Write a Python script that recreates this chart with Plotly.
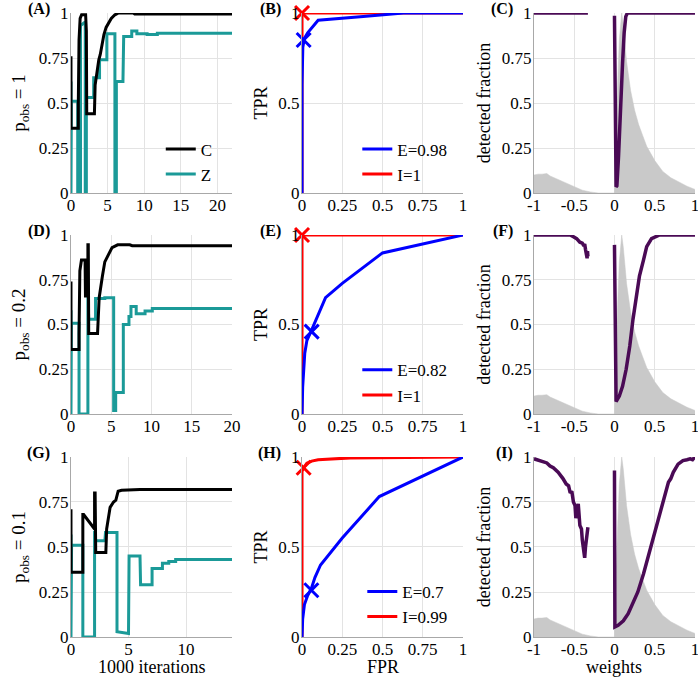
import plotly.graph_objects as go

# ---------------- data ----------------
# Panel A (p_obs = 1)
a_c_x = [0, 0, 0.95, 1.0, 1.0, 1.1, 1.25, 1.45, 2.0, 2.1, 2.15, 3.2, 3.3, 3.5, 3.8, 4.0, 4.3, 4.5, 4.8, 5.2, 5.5, 6.0, 6.5, 8.5, 8.7, 22]
a_c_y = [0.76, 0.36, 0.36, 0.36, 0.5, 0.85, 0.97, 0.99, 0.99, 0.9, 0.44, 0.44, 0.6, 0.67, 0.74, 0.77, 0.85, 0.88, 0.92, 0.95, 0.97, 0.99, 1.0, 1.0, 0.995, 0.995]
a_z_x = [0, 0, 0.05, 0.05, 0.92, 0.92, 1.3, 1.3, 1.95, 1.95, 2.1, 2.1, 3.1, 3.1, 3.9, 3.9, 4.9, 4.9, 6.0, 6.0, 6.2, 6.2, 7.1, 7.2, 8.3, 8.3, 9.0, 9.0, 10.4, 10.4, 11.8, 11.8, 22]
a_z_y = [0.62, 0, 0, 0.51, 0.51, 0, 0, 0.93, 0.95, 0, 0, 0.53, 0.53, 0.64, 0.64, 0.74, 0.74, 0.885, 0.885, 0, 0, 0.62, 0.62, 0.87, 0.87, 0.9, 0.9, 0.885, 0.885, 0.88, 0.88, 0.888, 0.888]

# Panel D (p_obs = 0.2)
d_c_x = [0, 0, 1.0, 1.0, 1.1, 1.2, 1.3, 1.75, 1.8, 2.1, 2.1, 2.15, 2.2, 3.3, 3.5, 3.8, 3.9, 4.2, 4.7, 5.1, 5.8, 7.3, 7.6, 20]
d_c_y = [0.74, 0.36, 0.36, 0.45, 0.8, 0.85, 0.86, 0.86, 0.66, 0.66, 0.945, 0.945, 0.45, 0.45, 0.65, 0.75, 0.77, 0.85, 0.9, 0.93, 0.945, 0.945, 0.94, 0.94]
d_z_x = [0, 0, 0.05, 0.05, 1.0, 1.0, 2.1, 2.1, 2.2, 3.05, 3.05, 4.2, 4.2, 5.3, 5.3, 5.55, 5.55, 6.5, 6.5, 7.2, 7.2, 7.45, 7.45, 8.1, 8.1, 9.2, 9.2, 10.1, 10.1, 20]
d_z_y = [0.58, 0, 0, 0.507, 0.507, 0, 0, 0.68, 0.53, 0.53, 0.645, 0.645, 0.65, 0.65, 0.02, 0.02, 0.12, 0.12, 0.5, 0.5, 0.545, 0.545, 0.6, 0.6, 0.56, 0.56, 0.575, 0.575, 0.59, 0.59]

# Panel G (p_obs = 0.1)
g_c_x = [0, 0, 1.0, 1.03, 1.03, 1.1, 2.05, 2.05, 2.1, 2.15, 3.03, 3.1, 3.4, 3.7, 3.9, 4.1, 4.4, 6.0, 14]
g_c_y = [0.71, 0.36, 0.36, 0.36, 0.68, 0.68, 0.6, 0.8, 0.8, 0.47, 0.47, 0.6, 0.72, 0.75, 0.76, 0.81, 0.815, 0.82, 0.82]
g_z_x = [0, 0, 0.05, 0.05, 1.03, 1.03, 2.05, 2.05, 2.15, 2.95, 3.0, 4.0, 4.0, 5.0, 5.05, 6.0, 6.05, 7.05, 7.05, 7.95, 7.95, 8.5, 8.5, 9.1, 9.1, 14]
g_z_y = [0.57, 0, 0, 0.51, 0.51, 0, 0, 0.59, 0.535, 0.535, 0.58, 0.58, 0.03, 0.02, 0.45, 0.45, 0.29, 0.29, 0.38, 0.38, 0.41, 0.41, 0.42, 0.42, 0.43, 0.43]

# ROC curves (FPR, TPR)
b_e_fpr = [0, 0, 0.005, 0.015, 0.035, 0.1, 0.38, 0.63, 1]
b_e_tpr = [0, 0.6, 0.81, 0.86, 0.89, 0.96, 0.98, 1.0, 1.0]
b_i_fpr = [0, 0, 1]
b_i_tpr = [0, 1, 1]
b_e_mark = (0.01, 0.85)
b_i_mark = (0.0, 1.0)

e_e_fpr = [0, 0.004, 0.017, 0.03, 0.06, 0.094, 0.146, 0.25, 0.5, 1]
e_e_tpr = [0, 0.15, 0.34, 0.41, 0.47, 0.545, 0.65, 0.73, 0.9, 1]
e_i_fpr = [0, 0, 1]
e_i_tpr = [0, 1, 1]
e_e_mark = (0.06, 0.46)
e_i_mark = (0.0, 1.0)

h_e_fpr = [0, 0.004, 0.015, 0.035, 0.058, 0.08, 0.115, 0.25, 0.48, 1]
h_e_tpr = [0, 0.1, 0.18, 0.23, 0.27, 0.33, 0.40, 0.55, 0.78, 1]
h_i_fpr = [0, 0, 0.01, 0.03, 0.06, 0.1, 0.3, 1]
h_i_tpr = [0, 0.92, 0.94, 0.965, 0.977, 0.985, 0.995, 1]
h_e_mark = (0.058, 0.26)
h_i_mark = (0.01, 0.94)

roc_labels = [("E=0.98", "I=1"), ("E=0.82", "I=1"), ("E=0.7", "I=0.99")]

# weight histogram (normalised), same for C, F, I
hist_w = [-1, -0.95, -0.9, -0.84, -0.8, -0.7, -0.6, -0.5, -0.4, -0.3, -0.2, 0, 0.005, 0.03, 0.06, 0.09, 0.11, 0.15, 0.2, 0.25, 0.3, 0.35, 0.4, 0.5, 0.6, 0.7, 0.8, 0.9, 1.0]
hist_h = [0.1, 0.105, 0.105, 0.108, 0.095, 0.075, 0.052, 0.033, 0.016, 0.006, 0.0, 0.0, 0.25, 0.5, 0.85, 1.0, 0.93, 0.73, 0.57, 0.46, 0.38, 0.32, 0.26, 0.18, 0.12, 0.085, 0.06, 0.038, 0.02]

# detected fraction vs weight
c_w = [-1, -0.33, None, 0.0, 0.02, 0.03, 0.05, 0.07, 0.1, 0.12, 0.14, 0.16, 1]
c_f = [1, 1, None, 0.985, 0.035, 0.04, 0.2, 0.45, 0.72, 0.89, 0.98, 1.0, 1.0]
f_w = [-1, -0.55, -0.51, -0.47, -0.43, -0.4, -0.38, -0.37, -0.36, -0.35, -0.34, -0.335, -0.33, None,
       0.0, 0.01, 0.02, 0.06, 0.1, 0.145, 0.19, 0.23, 0.27, 0.31, 0.36, 0.4, 0.46, 0.52, 0.56, 1]
f_f = [1, 1, 0.99, 0.98, 0.96, 0.955, 0.94, 0.95, 0.92, 0.9, 0.87, 0.91, 0.88, None,
       0.945, 0.07, 0.07, 0.1, 0.155, 0.25, 0.38, 0.53, 0.66, 0.77, 0.86, 0.935, 0.98, 0.995, 1.0, 1.0]
i_w = [-1, -0.93, -0.84, -0.8, -0.76, -0.7, -0.67, -0.64, -0.6, -0.57, -0.55, -0.53, -0.51, -0.49, -0.48, -0.46,
       -0.45, -0.43, -0.41, -0.4, -0.38, -0.37, -0.36, -0.34, -0.33, None,
       0.0, 0.005, 0.045, 0.11, 0.17, 0.23, 0.29, 0.36, 0.42, 0.48, 0.54, 0.61, 0.67, 0.7, 0.73, 0.79, 0.85, 0.9, 0.94, 0.97, 1.0]
i_f = [0.99, 0.98, 0.967, 0.95, 0.94, 0.915, 0.9, 0.88, 0.85, 0.84, 0.8, 0.81, 0.75, 0.73, 0.66, 0.72,
       0.74, 0.62, 0.6, 0.54, 0.48, 0.44, 0.5, 0.56, 0.61, None,
       0.925, 0.056, 0.065, 0.09, 0.13, 0.19, 0.25, 0.35, 0.45, 0.55, 0.65, 0.76, 0.86, 0.88, 0.915, 0.96, 0.98, 0.985, 0.99, 0.985, 1.0]

row_titles = ["p<sub>obs</sub> = 1", "p<sub>obs</sub> = 0.2", "p<sub>obs</sub> = 0.1"]
col_xtitles = ["1000 iterations", "FPR", "weights"]
x_maxes = [22, 20, 14]
panel_letters = ["(A)", "(B)", "(C)", "(D)", "(E)", "(F)", "(G)", "(H)", "(I)"]

# ---------------- styling ----------------
FONT = "Liberation Serif"
BLACK = "#000000"
TEAL = "#1b9a98"
BLUE = "#0000ff"
RED = "#ff0000"
PURPLE = "#4a0a55"
GRAY = "#c9c9c9"
GRID = "#e3e3e3"

col_dom = [[0.1017, 0.3324], [0.4327, 0.6633], [0.765, 0.9957]]
row_dom = [[0.7178, 0.981], [0.3947, 0.6564], [0.0687, 0.3319]]

fig = go.Figure()
layout = dict(
    width=698, height=684, margin=dict(l=0, r=0, t=0, b=0, autoexpand=False),
    paper_bgcolor="white", plot_bgcolor="white",
    font=dict(family=FONT, size=17, color="black"),
    annotations=[],
)

def ax_common():
    return dict(showgrid=True, gridcolor=GRID, gridwidth=1, zeroline=False,
                showline=True, linecolor="#a8a8a8", linewidth=1, automargin=False,
                ticks="", ticklabeloverflow="allow",
                tickfont=dict(family=FONT, size=17, color="black"))

tf = dict(family=FONT, size=18, color="black")
comb = [(r, c) for r in range(3) for c in range(3)]
for k, (r, c) in enumerate(comb):
    n = k + 1
    xa = "xaxis" if n == 1 else f"xaxis{n}"
    ya = "yaxis" if n == 1 else f"yaxis{n}"
    xs = "x" if n == 1 else f"x{n}"
    ys = "y" if n == 1 else f"y{n}"
    xd = ax_common(); yd = ax_common()
    xd.update(domain=col_dom[c], anchor=ys, ticklabelstandoff=-3)
    yd.update(domain=row_dom[r], anchor=xs, ticklabelstandoff=-2)
    if c == 0:
        xd.update(range=[0, x_maxes[r]], tickvals=[0, 5, 10, 15, 20])
        yd.update(range=[0, 1], tickvals=[0, 0.25, 0.5, 0.75, 1], ticktext=["0", "0.25", "0.5", "0.75", "1"])
        yd.update(title=dict(text=row_titles[r], font=dict(family=FONT, size=19, color="black"), standoff=8))
    elif c == 1:
        xd.update(range=[0, 1], tickvals=[0, 0.25, 0.5, 0.75, 1], ticktext=["0", "0.25", "0.5", "0.75", "1"])
        yd.update(range=[0, 1], tickvals=[0, 0.5, 1], ticktext=["0", "0.5", "1"])
        yd.update(title=dict(text="TPR", font=tf, standoff=6))
    else:
        xd.update(range=[-1, 1], tickvals=[-1, -0.5, 0, 0.5, 1], ticktext=["-1", "-0.5", "0", "0.5", "1"])
        yd.update(range=[0, 1], tickvals=[0, 0.25, 0.5, 0.75, 1], ticktext=["0", "0.25", "0.5", "0.75", "1"])
        yd.update(title=dict(text="detected fraction", font=tf, standoff=6))
    layout[xa] = xd
    layout[ya] = yd
    # panel letter
    layout["annotations"].append(dict(
        text="<b>" + panel_letters[k] + "</b>", xref="paper", yref="paper",
        x=col_dom[c][0] - 0.027, y=row_dom[r][1] + 0.006, xanchor="right", yanchor="middle",
        showarrow=False, font=dict(family=FONT, size=16, color="black")))

# bottom-row x-axis titles
for c in range(3):
    layout["annotations"].append(dict(
        text=col_xtitles[c], xref="paper", yref="paper",
        x=(col_dom[c][0] + col_dom[c][1]) / 2, y=0.0249, xanchor="center", yanchor="middle",
        showarrow=False, font=tf))

def axn(n):
    return ("x" if n == 1 else f"x{n}", "y" if n == 1 else f"y{n}")

# --- column 1: convergence ---
conv = [(a_c_x, a_c_y, a_z_x, a_z_y), (d_c_x, d_c_y, d_z_x, d_z_y), (g_c_x, g_c_y, g_z_x, g_z_y)]
for r, (cx, cy, zx, zy) in enumerate(conv):
    xs, ys = axn(r * 3 + 1)
    show = (r == 0)
    fig.add_trace(go.Scatter(x=zx, y=zy, mode="lines", line=dict(color=TEAL, width=3),
                             name="Z", xaxis=xs, yaxis=ys, showlegend=show, legend="legend",
                             legendrank=2))
    fig.add_trace(go.Scatter(x=cx, y=cy, mode="lines", line=dict(color=BLACK, width=3),
                             name="C", xaxis=xs, yaxis=ys, showlegend=show, legend="legend",
                             legendrank=1))

# --- column 2: ROC ---
rocs = [(b_e_fpr, b_e_tpr, b_i_fpr, b_i_tpr, b_e_mark, b_i_mark),
        (e_e_fpr, e_e_tpr, e_i_fpr, e_i_tpr, e_e_mark, e_i_mark),
        (h_e_fpr, h_e_tpr, h_i_fpr, h_i_tpr, h_e_mark, h_i_mark)]
for r, (ex, ey, ix, iy, em, im) in enumerate(rocs):
    xs, ys = axn(r * 3 + 2)
    lg = f"legend{r + 2}"
    fig.add_trace(go.Scatter(x=ix, y=iy, mode="lines", line=dict(color=RED, width=3),
                             name=roc_labels[r][1], xaxis=xs, yaxis=ys, legend=lg, legendrank=2,
                             cliponaxis=False))
    fig.add_trace(go.Scatter(x=ex, y=ey, mode="lines", line=dict(color=BLUE, width=3),
                             name=roc_labels[r][0], xaxis=xs, yaxis=ys, legend=lg, legendrank=1,
                             cliponaxis=False))
    fig.add_trace(go.Scatter(x=[em[0]], y=[em[1]], mode="markers",
                             marker=dict(symbol="x-thin", size=14, line=dict(color=BLUE, width=3)),
                             xaxis=xs, yaxis=ys, showlegend=False, cliponaxis=False))
    fig.add_trace(go.Scatter(x=[im[0]], y=[im[1]], mode="markers",
                             marker=dict(symbol="x-thin", size=14, line=dict(color=RED, width=3)),
                             xaxis=xs, yaxis=ys, showlegend=False, cliponaxis=False))

# --- column 3: detected fraction ---
dets = [(c_w, c_f), (f_w, f_f), (i_w, i_f)]
for r, (w, f) in enumerate(dets):
    xs, ys = axn(r * 3 + 3)
    fig.add_trace(go.Scatter(x=hist_w, y=hist_h, mode="lines", fill="tozeroy",
                             line=dict(color=GRAY, width=0.5), fillcolor=GRAY,
                             xaxis=xs, yaxis=ys, showlegend=False))
    fig.add_trace(go.Scatter(x=w, y=f, mode="lines", line=dict(color=PURPLE, width=3.5),
                             xaxis=xs, yaxis=ys, showlegend=False, connectgaps=False))

leg_common = dict(bgcolor="rgba(0,0,0,0)", borderwidth=0, xanchor="right", yanchor="top",
                  font=dict(family=FONT, size=17, color="black"), tracegroupgap=0,
                  traceorder="normal", itemwidth=30)
layout["legend"] = dict(leg_common, x=0.312, y=0.808)
layout["legend2"] = dict(leg_common, x=0.648, y=0.808)
layout["legend3"] = dict(leg_common, x=0.648, y=0.485)
layout["legend4"] = dict(leg_common, x=0.648, y=0.161)

fig.update_layout(**layout)
fig.write_html("out.html", config={"displayModeBar": False},
               post_script="document.body.style.margin='0px';document.body.style.overflow='hidden';")
